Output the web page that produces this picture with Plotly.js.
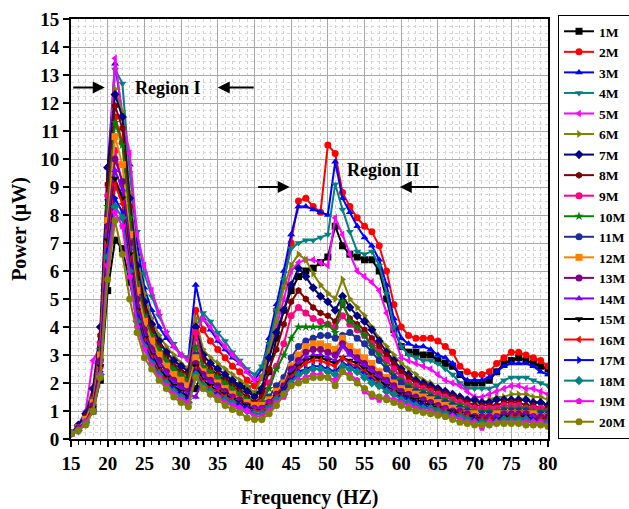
<!DOCTYPE html>
<html>
<head>
<meta charset="utf-8">
<script src="https://cdn.plot.ly/plotly-3.0.1.min.js"></script>
<style>html,body{margin:0;padding:0;background:#fff;}#chart{width:629px;height:509px;}</style>
</head>
<body>
<div id="chart"></div>
<script>
const freq = [15,16,17,18,19,20,21,22,23,24,25,26,27,28,29,30,31,32,33,34,35,36,37,38,39,40,41,42,43,44,45,46,47,48,49,50,51,52,53,54,55,56,57,58,59,60,61,62,63,64,65,66,67,68,69,70,71,72,73,74,75,76,77,78,79,80];

const seriesNames = ["1M","2M","3M","4M","5M","6M","7M","8M","9M","10M","11M","12M","13M","14M","15M","16M","17M","18M","19M","20M"];

const p1M = [0.2,0.4,0.6,1.0,2.1,5.3,7.1,6.8,5.6,4.4, 3.7,3.2,2.9,2.7,2.5,2.3,2.1,1.8,2.5,2.3, 2.2,2.1,2.0,1.9,1.8,1.6,1.7,2.4,3.6,4.6, 5.3,5.8,6.0,6.1,6.3,6.5,7.6,6.9,6.6,6.5, 6.4,6.4,6.0,5.0,3.9,3.3,3.1,3.1,3.0,3.0, 2.8,2.7,2.6,2.3,2.0,2.0,2.0,2.1,2.4,2.7, 2.8,2.9,2.8,2.7,2.6,2.5];
const p2M = [0.2,0.4,0.7,1.2,2.6,7.5,11.5,10.6,8.2,6.0, 4.8,4.0,3.5,3.1,2.8,2.6,2.5,4.6,3.9,3.5, 3.2,2.9,2.6,2.4,2.1,1.9,2.2,3.3,4.6,5.6, 7.0,8.5,8.6,8.3,8.1,10.5,10.2,8.8,8.3,7.9, 7.6,7.4,6.9,6.0,4.8,4.0,3.7,3.6,3.6,3.6, 3.5,3.3,3.1,2.6,2.4,2.3,2.3,2.4,2.7,2.9, 3.1,3.1,3.0,2.9,2.8,2.6];
const p3M = [0.2,0.5,0.8,1.5,3.5,9.7,13.4,11.6,9.8,7.0, 5.4,4.6,4.0,3.6,3.3,3.0,2.9,5.5,4.3,3.9, 3.5,3.2,2.9,2.7,2.4,2.1,2.5,3.6,4.8,6.0, 7.3,8.3,8.3,8.2,8.1,8.0,9.9,8.6,8.1,7.6, 7.2,6.9,6.4,5.5,4.3,3.6,3.4,3.3,3.3,3.2, 3.0,2.9,2.7,2.3,2.1,2.1,2.1,2.2,2.4,2.6, 2.7,2.7,2.7,2.6,2.4,2.3];
const p4M = [0.2,0.4,0.7,1.3,2.8,8.5,13.2,12.7,9.5,7.4, 5.9,5.1,4.4,3.8,3.4,3.0,2.9,4.0,4.5,4.2, 3.8,3.5,3.1,2.8,2.5,2.3,2.6,3.4,4.6,5.7, 6.8,7.0,7.1,7.1,7.2,7.3,9.1,8.2,7.4,6.7, 6.6,6.7,6.2,5.2,4.0,3.3,3.0,2.9,2.8,2.8, 2.7,2.5,2.3,2.0,1.8,1.8,1.8,1.8,1.9,2.1, 2.2,2.2,2.2,2.1,2.0,1.9];
const p5M = [0.2,0.5,1.0,2.8,3.3,9.0,13.6,11.5,10.2,7.3, 6.2,5.3,4.5,3.8,3.3,3.0,2.8,3.8,4.3,4.0, 3.6,3.3,3.0,2.7,2.4,2.1,2.2,3.0,4.0,5.0, 6.0,6.3,6.4,6.4,6.3,6.2,7.9,7.3,6.6,6.0, 5.8,5.6,5.3,4.5,3.7,2.9,2.8,2.7,2.6,2.5, 2.3,2.1,2.0,1.9,1.7,1.5,1.5,1.6,1.7,1.8, 1.9,1.9,1.8,1.8,1.7,1.6];
const p6M = [0.2,0.4,0.8,1.6,3.0,9.3,12.5,11.7,8.8,6.5, 5.2,4.3,3.7,3.3,3.0,2.7,2.5,4.3,3.2,2.9, 2.7,2.5,2.3,2.1,1.9,1.6,2.2,3.1,4.2,5.4, 6.2,6.6,6.4,5.9,5.5,5.2,5.0,5.7,5.0,4.7, 4.4,4.0,3.6,3.3,3.0,2.7,2.5,2.3,2.1,2.0, 1.8,1.7,1.6,1.5,1.4,1.3,1.3,1.4,1.5,1.5, 1.6,1.6,1.6,1.5,1.5,1.4];
const p7M = [0.2,0.5,0.9,1.8,4.0,9.7,12.3,11.5,8.6,6.2, 4.9,4.1,3.5,3.1,2.8,2.6,2.4,4.0,3.0,2.7, 2.5,2.3,2.1,1.9,1.7,1.5,1.8,2.9,3.8,4.6, 5.5,6.1,5.8,5.4,5.1,4.9,4.6,5.1,4.7,4.4, 4.2,3.9,3.5,3.1,2.8,2.5,2.3,2.1,2.0,1.9, 1.8,1.7,1.6,1.5,1.4,1.4,1.3,1.3,1.4,1.4, 1.4,1.4,1.4,1.3,1.3,1.2];
const p8M = [0.2,0.4,0.8,1.5,3.7,9.1,11.9,11.1,8.3,5.9, 4.6,3.9,3.3,2.9,2.6,2.4,2.3,3.7,2.8,2.5, 2.3,2.1,1.9,1.7,1.5,1.3,1.5,2.5,3.2,4.1, 4.9,5.3,5.0,4.7,4.5,4.4,4.2,4.8,4.3,4.1, 3.9,3.6,3.3,3.0,2.7,2.4,2.2,2.0,1.9,1.8, 1.7,1.6,1.5,1.4,1.3,1.2,1.2,1.2,1.2,1.3, 1.3,1.3,1.2,1.2,1.1,1.1];
const p9M = [0.2,0.4,0.7,1.4,3.4,8.7,10.3,9.1,7.4,5.5, 4.3,3.6,3.1,2.7,2.4,2.2,2.0,3.8,2.5,2.3, 2.1,1.9,1.7,1.5,1.3,1.2,1.3,2.0,2.6,3.4, 4.4,4.7,4.5,4.3,4.2,4.1,4.0,4.4,4.1,3.9, 3.7,3.4,3.1,2.8,2.5,2.2,2.0,1.9,1.8,1.7, 1.6,1.5,1.4,1.3,1.2,1.1,1.1,1.1,1.1,1.2, 1.2,1.2,1.1,1.1,1.1,1.0];
const p10M = [0.2,0.4,0.7,1.4,3.2,8.3,11.3,10.5,7.9,5.6, 4.4,3.7,3.2,2.8,2.5,2.3,2.1,3.3,2.6,2.4, 2.2,2.0,1.8,1.6,1.4,1.2,1.3,1.8,2.5,3.0, 3.6,4.0,4.0,4.0,4.0,4.1,3.8,4.9,4.2,4.0, 3.7,3.3,3.0,2.6,2.3,2.1,1.9,1.8,1.7,1.6, 1.5,1.4,1.3,1.2,1.1,1.0,1.0,1.0,1.0,1.1, 1.1,1.1,1.1,1.0,1.0,1.0];
const p11M = [0.2,0.4,0.7,1.3,3.0,7.2,9.0,8.7,7.0,5.2, 4.1,3.4,2.9,2.6,2.3,2.1,1.9,3.0,2.4,2.2, 2.0,1.8,1.6,1.4,1.3,1.1,1.2,1.5,1.9,2.2, 2.9,3.3,3.5,3.6,3.7,3.7,3.6,3.7,3.8,3.6, 3.4,3.1,2.8,2.5,2.2,2.0,1.8,1.7,1.6,1.5, 1.4,1.3,1.2,1.1,1.0,0.9,0.9,0.9,0.9,1.0, 1.0,1.0,1.0,0.9,0.9,0.9];
const p12M = [0.2,0.4,0.7,1.3,3.0,7.8,10.8,9.8,7.3,5.3, 4.2,3.5,3.0,2.6,2.3,2.1,1.9,2.9,2.4,2.2, 2.0,1.8,1.6,1.4,1.3,1.2,1.2,1.4,1.7,2.0, 2.6,3.0,3.3,3.4,3.4,3.3,3.2,3.6,3.3,3.1, 2.9,2.7,2.4,2.2,2.0,1.8,1.7,1.6,1.5,1.4, 1.3,1.2,1.1,1.0,0.9,0.9,0.8,0.8,0.9,0.9, 0.9,0.9,0.9,0.9,0.8,0.8];
const p13M = [0.2,0.4,0.6,1.2,2.8,7.6,10.0,9.2,7.0,5.0, 3.9,3.2,2.8,2.4,2.1,1.9,1.7,2.7,2.3,2.1, 1.9,1.7,1.5,1.4,1.2,1.1,1.1,1.3,1.6,1.9, 2.5,2.8,3.1,3.2,3.2,3.1,3.0,3.4,3.1,2.9, 2.7,2.5,2.3,2.1,1.9,1.7,1.6,1.5,1.4,1.3, 1.2,1.1,1.0,1.0,0.9,0.8,0.8,0.8,0.8,0.9, 0.9,0.9,0.9,0.8,0.8,0.8];
const p14M = [0.2,0.4,0.6,1.1,2.7,7.3,9.6,8.9,6.8,4.8, 3.7,3.1,2.6,2.3,2.0,1.8,1.6,1.5,2.2,2.0, 1.8,1.6,1.5,1.3,1.2,1.1,1.1,1.3,1.5,1.8, 2.4,2.7,2.9,3.0,3.0,2.9,2.8,3.3,3.0,2.8, 2.6,2.4,2.2,2.0,1.8,1.6,1.5,1.4,1.3,1.2, 1.1,1.1,1.0,0.9,0.8,0.8,0.7,0.7,0.8,0.8, 0.8,0.8,0.8,0.8,0.7,0.7];
const p15M = [0.2,0.3,0.6,1.1,2.6,7.1,9.3,8.6,6.6,4.6, 3.6,3.0,2.5,2.2,1.9,1.7,1.5,2.6,2.1,1.9, 1.7,1.6,1.4,1.3,1.2,1.0,1.0,1.2,1.5,1.8, 2.3,2.6,2.8,2.9,2.9,2.8,2.7,2.9,2.8,2.7, 2.5,2.3,2.1,1.9,1.7,1.6,1.5,1.4,1.3,1.2, 1.1,1.0,1.0,0.9,0.8,0.8,0.7,0.7,0.7,0.8, 0.8,0.8,0.8,0.7,0.7,0.7];
const p16M = [0.2,0.3,0.6,1.1,2.5,6.9,9.1,8.4,6.4,4.5, 3.5,2.9,2.4,2.1,1.8,1.6,1.4,2.5,2.0,1.8, 1.7,1.5,1.4,1.2,1.1,1.0,1.0,1.2,1.5,1.7, 2.2,2.5,2.7,2.8,2.8,2.7,2.6,2.9,2.7,2.6, 2.4,2.2,2.0,1.8,1.7,1.5,1.4,1.3,1.2,1.1, 1.1,1.0,0.9,0.9,0.8,0.7,0.7,0.7,0.7,0.7, 0.8,0.8,0.7,0.7,0.7,0.7];
const p17M = [0.2,0.3,0.6,1.0,2.4,6.7,8.6,8.1,6.2,4.4, 3.4,2.8,2.3,2.0,1.8,1.6,1.4,2.4,1.9,1.7, 1.6,1.4,1.3,1.2,1.1,0.9,0.9,1.1,1.4,1.7, 2.1,2.4,2.5,2.6,2.6,2.5,2.4,2.7,2.6,2.5, 2.3,2.1,1.9,1.8,1.6,1.5,1.4,1.3,1.2,1.1, 1.0,0.9,0.9,0.8,0.7,0.7,0.6,0.6,0.7,0.7, 0.7,0.7,0.7,0.7,0.6,0.6];
const p18M = [0.2,0.3,0.6,1.0,2.3,6.5,8.3,7.9,6.0,4.2, 3.3,2.7,2.3,2.0,1.7,1.5,1.3,2.3,1.9,1.7, 1.5,1.4,1.3,1.1,1.0,0.9,0.9,1.1,1.4,1.6, 2.0,2.3,2.4,2.5,2.5,2.4,2.3,2.6,2.5,2.4, 2.2,2.0,1.9,1.7,1.6,1.4,1.3,1.2,1.1,1.1, 1.0,0.9,0.8,0.8,0.7,0.6,0.6,0.6,0.6,0.7, 0.7,0.7,0.7,0.6,0.6,0.6];
const p19M = [0.2,0.3,0.6,1.0,2.3,6.2,8.1,7.6,5.8,4.0, 3.2,2.6,2.2,1.9,1.6,1.4,1.3,2.2,1.8,1.6, 1.5,1.3,1.2,1.1,1.0,0.8,0.8,1.0,1.3,1.5, 1.9,2.1,2.2,2.3,2.3,2.2,2.1,2.4,2.3,2.1, 1.7,1.5,1.4,1.5,1.4,1.3,1.2,1.1,1.0,1.0, 0.9,0.8,0.8,0.7,0.6,0.6,0.4,0.6,0.6,0.6, 0.6,0.6,0.6,0.6,0.6,0.5];
const p20M = [0.2,0.3,0.5,1.0,2.2,5.7,7.8,6.6,5.0,3.8, 2.9,2.5,2.1,1.8,1.5,1.3,1.15,2.2,1.8,1.6, 1.4,1.2,1.05,0.95,0.75,0.7,0.7,0.9,1.2,1.6, 1.9,2.0,2.1,2.2,2.2,2.2,1.9,2.4,2.2,2.0, 1.8,1.6,1.5,1.4,1.3,1.2,1.1,1.0,0.95,0.9, 0.85,0.8,0.7,0.6,0.55,0.5,0.5,0.5,0.55,0.55, 0.55,0.55,0.5,0.5,0.5,0.45];

const seriesValues = [p1M,p2M,p3M,p4M,p5M,p6M,p7M,p8M,p9M,p10M,p11M,p12M,p13M,p14M,p15M,p16M,p17M,p18M,p19M,p20M];

const colors = ["#000000","#FF0000","#0000FF","#008080","#FF00FF","#808000","#000080","#800000","#FF0080","#008000",
                "#1C2D9C","#FF8000","#800080","#8000FF","#000000","#FF0000","#0000FF","#008080","#FF00FF","#808000"];
const symbols = ["square","circle","triangle-up","triangle-down","triangle-left","triangle-right","diamond","hexagon","circle","star",
                 "circle-dot","square","circle","triangle-up","triangle-down","triangle-left","triangle-right","diamond","pentagon","circle"];

const traces = seriesNames.map((n,i)=>({
  x: freq, y: seriesValues[i], name: n, type: 'scatter', mode: 'lines+markers',
  line: {color: colors[i], width: 2},
  marker: {color: colors[i], symbol: symbols[i], size: 7, line: {width: 0}}
}));

const fontFam = '"Liberation Serif", "Times New Roman", serif';

const arrowBase = {xref:'x', yref:'y', axref:'x', ayref:'y', text:'', showarrow:true, arrowhead:2, arrowsize:1.2, arrowwidth:2, arrowcolor:'#000'};

const layout = {
  width: 629, height: 509,
  margin: {l:71, r:81, t:19, b:70, autoexpand:false},
  paper_bgcolor:'#fff', plot_bgcolor:'#fff',
  font: {family: fontFam, color:'#000', size: 18},
  showlegend: true,
  legend: {x:1.021, y:1.0095, xanchor:'left', yanchor:'top', bordercolor:'#000', borderwidth:1, maxheight:480,
           font:{family: fontFam, size:13.5, color:'#000', weight:'bold'}, itemwidth:30, tracegroupgap:0, bgcolor:'#fff'},
  xaxis: {range:[15,80], dtick:5, tick0:15, showline:true, linewidth:2, linecolor:'#000', mirror:true,
          ticks:'outside', ticklen:6, tickwidth:2, tickcolor:'#000',
          showgrid:true, gridcolor:'#a8a8a8', gridwidth:1, zeroline:false,
          minor:{dtick:1, ticks:'outside', ticklen:4, tickwidth:1.5, tickcolor:'#000', showgrid:true, gridcolor:'#cfcfcf', griddash:'dot', gridwidth:1},
          tickfont:{family: fontFam, size:19, weight:'bold'},
          title:{text:'Frequency (HZ)', font:{family: fontFam, size:20, weight:'bold'}, standoff:18}},
  yaxis: {range:[0,15], dtick:1, tick0:0, showline:true, linewidth:2, linecolor:'#000', mirror:true,
          ticks:'outside', ticklen:6, tickwidth:2, tickcolor:'#000',
          showgrid:true, gridcolor:'#a8a8a8', gridwidth:1, zeroline:false,
          minor:{dtick:0.25, ticks:'', showgrid:true, gridcolor:'#d8d8d8', griddash:'dot', gridwidth:1},
          tickfont:{family: fontFam, size:19, weight:'bold'},
          title:{text:'Power (μW)', font:{family: fontFam, size:20, weight:'bold'}, standoff:8}},
  annotations: [
    {xref:'x', yref:'y', x:28.2, y:12.55, text:'Region I', showarrow:false, font:{family: fontFam, size:18, weight:'bold'}},
    Object.assign({}, arrowBase, {x:19.6, y:12.55, ax:15.1, ay:12.55}),
    Object.assign({}, arrowBase, {x:35.0, y:12.55, ax:40.1, ay:12.55}),
    {xref:'x', yref:'y', x:57.6, y:9.6, text:'Region II', showarrow:false, font:{family: fontFam, size:18, weight:'bold'}},
    Object.assign({}, arrowBase, {x:44.8, y:9.0, ax:40.3, ay:9.0}),
    Object.assign({}, arrowBase, {x:59.8, y:9.0, ax:65.3, ay:9.0})
  ]
};

Plotly.newPlot('chart', traces, layout, {displayModeBar:false, staticPlot:true});
</script>
</body>
</html>
